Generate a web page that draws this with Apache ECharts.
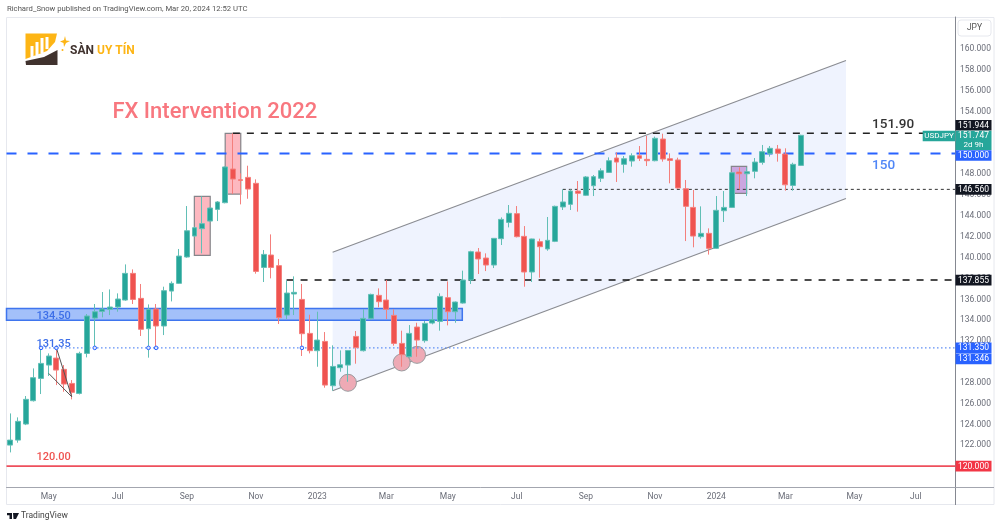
<!DOCTYPE html>
<html><head><meta charset="utf-8"><style>html,body{margin:0;padding:0;background:#fff}#c{width:1000px;height:527px}</style>
<script src="https://cdn.jsdelivr.net/npm/echarts@6/dist/echarts.min.js"></script></head>
<body><div id="c"></div><script>
// Weekly USDJPY candles, first bar = week of 2022-03-28, one entry per week
const opens=[122.02,122.50,124.04,126.28,128.42,129.70,130.37,129.29,127.94,126.98,130.82,134.21,134.85,135.05,135.27,135.94,138.50,136.10,133.19,135.08,133.45,136.80,137.54,140.07,142.08,142.79,143.52,144.64,145.28,148.51,147.49,147.71,147.14,139.07,140.26,139.24,134.50,136.52,136.00,132.74,131.08,131.97,127.72,129.45,129.70,132.45,131.08,134.18,136.39,135.94,134.47,131.78,130.50,133.35,132.04,133.73,133.89,136.17,134.82,135.65,137.86,140.55,139.97,139.30,141.83,143.39,144.23,142.05,138.63,141.54,140.84,141.57,144.87,145.12,146.40,145.99,146.91,147.62,148.19,149.57,148.96,149.28,149.79,149.44,149.31,151.39,149.50,149.38,146.62,144.83,142.02,142.34,140.90,144.51,144.83,148.22,148.06,148.29,149.15,149.98,150.43,149.95,146.94,148.86];
const highs=[125.06,124.68,126.73,129.38,131.33,130.82,131.35,129.70,128.26,130.98,134.60,135.56,136.71,136.96,136.58,139.36,138.88,137.48,135.52,135.56,137.22,137.73,140.84,144.96,142.98,145.89,144.83,145.44,148.77,151.94,148.10,148.83,147.52,140.74,142.24,139.88,137.83,138.21,137.48,134.53,134.82,132.87,131.59,131.11,131.14,132.97,135.05,136.55,137.06,137.86,135.05,133.00,133.54,133.76,133.93,135.05,136.58,137.73,135.80,138.76,140.67,140.93,140.42,141.89,143.87,145.06,144.96,143.04,141.83,141.83,143.91,145.00,146.56,146.56,147.36,147.84,147.94,148.58,149.63,150.11,149.76,150.02,150.72,151.68,151.62,151.90,150.02,149.60,147.46,146.50,144.93,142.82,145.92,146.40,148.22,148.67,148.67,149.57,150.82,150.72,150.82,150.50,149.12,151.80];
const lows=[121.32,122.25,123.94,126.20,126.92,128.65,127.78,127.14,126.41,126.88,130.44,131.46,134.28,134.50,134.82,135.87,135.56,132.49,130.41,131.53,132.58,135.81,137.48,140.00,142.02,140.42,143.46,143.52,145.22,146.11,145.12,145.66,138.47,137.67,138.02,133.64,134.12,134.50,130.57,130.82,129.54,127.53,127.24,129.06,128.10,129.83,131.00,134.02,135.24,134.12,131.56,129.54,130.44,130.50,131.85,133.61,133.00,133.51,133.76,135.59,137.48,138.44,138.72,139.01,141.22,142.91,141.95,137.22,137.67,138.08,140.67,141.50,144.58,144.58,144.42,145.92,145.92,147.27,148.16,147.27,148.16,148.74,149.28,148.80,149.25,149.22,147.14,146.62,141.60,141.00,141.83,140.30,140.84,143.43,144.77,146.56,145.92,147.62,148.93,149.70,149.22,146.43,146.43,148.80];
const closes=[122.50,124.30,126.41,128.49,129.86,130.57,129.22,127.88,127.08,130.82,134.41,134.82,135.08,135.27,136.04,138.50,136.00,133.13,135.05,133.45,136.84,137.54,140.16,142.59,142.88,143.27,144.77,145.35,148.71,147.55,147.42,146.59,138.69,140.32,139.07,134.24,136.61,136.68,132.71,131.08,132.10,127.78,129.57,129.73,131.10,131.37,134.18,136.48,135.78,135.05,131.78,130.70,132.74,132.10,133.70,134.05,136.29,134.82,135.75,137.86,140.58,139.88,139.30,141.86,143.68,144.26,142.02,138.63,141.80,141.06,141.67,144.93,145.35,146.40,146.18,147.75,147.78,148.35,149.31,149.18,149.50,149.79,149.54,149.31,151.46,149.47,149.34,146.69,144.93,142.08,142.34,140.90,144.55,144.83,148.16,148.06,148.25,149.18,150.18,150.50,150.02,147.00,148.96,151.747];
const monthTicks=[5,14,23,32,40,49,57,66,75,84,92,101,110,118];
const monthLabels=['May','Jul','Sep','Nov','2023','Mar','May','Jul','Sep','Nov','2024','Mar','May','Jul'];
const priceTicks=[120,122,124,126,128,132,134,136,138,140,142,144,146,148,154,156,158,160];
const channelTop=[[42,140.52],[108.9,158.93]];
const channelBottom=[[42,127.24],[108.9,145.68]];
const supportZone=[-0.5,135.12,58.9,134.0];
const pinkBoxes=[[23.98,145.89,26.05,140.23],[28,151.94,30.03,146.11]];
const purpleBox=[93.96,148.77,95.96,146.18];
const touchPoints=[[44,128.0],[51,129.95],[53,130.68]];
const wedgeLines=[[[5,128.9],[8,126.66]],[[6,131.35],[8,126.66]]];
const pivotPoints=[[4,131.35],[6,131.35],[11,131.35],[18,131.35],[19,131.35],[38,131.35]];
const xEnd=123.11;
const tagPrices=[151.944,150,146.56,137.855,131.35,131.346,120];
const tagColors=['#131722','#2962ff','#131722','#131722','#2962ff','#2962ff','#f23645'];
const tagShift=[-8,2,0,0,0,11,0];

const FONT='Roboto, sans-serif';
const monthOf=v=>monthLabels[monthTicks.indexOf(v)]||'';
const candles=opens.map((o,i)=>[i,o,closes[i],lows[i],highs[i]]);
const pts=(api,a)=>a.map(p=>api.coord(p));
const line=(api,a,b,style)=>{const p=api.coord(a),q=api.coord(b);return {type:'line',shape:{x1:p[0],y1:p[1],x2:q[0],y2:q[1]},style:Object.assign({fill:null},style)};};
const box=(api,b,style)=>{const p=api.coord([b[0],b[1]]),q=api.coord([b[2],b[3]]);return {type:'rect',shape:{x:p[0],y:p[1],width:q[0]-p[0],height:q[1]-p[1]},style};};
const label=(api,c,text,color,font,align)=>{const p=api.coord(c);return {type:'text',style:{x:p[0],y:p[1],text,fill:color,font:font+' '+FONT,textAlign:align||'left',textVerticalAlign:'middle'}};};
const layer=(z,build)=>({type:'custom',coordinateSystem:'cartesian2d',z,silent:true,clip:false,encode:{x:0,y:1},data:[[0,130]],renderItem:(p,api)=>({type:'group',children:build(api)})});

const option={
 animation:false,backgroundColor:'#fff',
 grid:{left:6.5,right:45,top:17,bottom:40},
 xAxis:{type:'value',min:-0.5,max:xEnd,splitLine:{show:false},
  axisLine:{onZero:false,lineStyle:{color:'#a3a6af',width:1}},axisTick:{show:false},
  axisLabel:{customValues:monthTicks,margin:5,fontSize:8.5,fontFamily:FONT,color:'#6a6d78',hideOverlap:false,formatter:monthOf}},
 yAxis:{type:'value',position:'right',min:118,max:163.1,splitLine:{show:false},
  axisLine:{show:true,onZero:false,lineStyle:{color:'#858891',width:1}},axisTick:{show:false},
  axisLabel:{customValues:priceTicks,margin:5,fontSize:8.5,fontFamily:FONT,color:'#6a6d78',formatter:v=>Number(v).toFixed(3)}},
 series:[
  layer(1,api=>{
    const poly=pts(api,[channelTop[0],channelTop[1],channelBottom[1],channelBottom[0]]);
    return [{type:'polygon',shape:{points:poly},style:{fill:'#eff3fe'}},
     line(api,channelTop[0],channelTop[1],{stroke:'#8a8c92',lineWidth:1.2}),
     line(api,channelBottom[0],channelBottom[1],{stroke:'#8a8c92',lineWidth:1.2})];
  }),
  layer(2,api=>{
    const out=[box(api,supportZone,{fill:'#a3c0fa',stroke:'#3f75ee',lineWidth:1.5})];
    pinkBoxes.forEach(b=>out.push(box(api,b,{fill:'#fdb8c0',stroke:'#85858a',lineWidth:1.2})));
    out.push(box(api,purpleBox,{fill:'#cba6e0',stroke:'#85858a',lineWidth:1.2}));
    touchPoints.forEach(c=>{const p=api.coord(c);out.push({type:'circle',shape:{cx:p[0],cy:p[1],r:8.5},style:{fill:'#eeaab5',stroke:'#9a9a9e',lineWidth:1}});});
    return out;
  }),
  layer(3,api=>[
    line(api,[-0.5,150],[xEnd,150],{stroke:'#2962ff',lineWidth:2,lineDash:[10,11]}),
    line(api,[29,151.94],[xEnd,151.94],{stroke:'#222',lineWidth:1.5,lineDash:[7,7]}),
    line(api,[36,137.855],[xEnd,137.855],{stroke:'#111',lineWidth:1.5,lineDash:[7,7]}),
    line(api,[72,146.56],[xEnd,146.56],{stroke:'#333',lineWidth:1,lineDash:[3,3]}),
    line(api,[4,131.35],[xEnd,131.35],{stroke:'#5b8cf5',lineWidth:1.2,lineDash:[1.5,2.5]}),
    line(api,[-0.5,120],[xEnd,120],{stroke:'#ee4f5c',lineWidth:1.6}),
  ]),
  {type:'candlestick',z:4,silent:true,barWidth:5.4,clip:false,encode:{x:0,y:[1,2,3,4]},data:candles,
   itemStyle:{color:'#26a69a',color0:'#ef5350',borderColor:'#62bfb6',borderColor0:'#f47f7c',borderWidth:1}},
  layer(5,api=>{
    const out=[];
    wedgeLines.forEach(l=>out.push(line(api,l[0],l[1],{stroke:'#555',lineWidth:1})));
    pivotPoints.forEach(c=>{const p=api.coord(c);out.push({type:'circle',shape:{cx:p[0],cy:p[1],r:1.8},style:{fill:'#dfe8fd',stroke:'#2962ff',lineWidth:1}});});
    out.push(label(api,[13.3,153.9],'FX Intervention 2022','#f8777f','500 22px'));
    out.push(label(api,[112.3,152.8],'151.90','#333','500 13.5px'));
    out.push(label(api,[112.3,148.8],'150','#4f86f7','500 13.5px'));
    out.push(label(api,[3.4,134.4],'134.50','#3d6fe8','500 11px'));
    out.push(label(api,[3.4,131.7],'131.35','#3d6fe8','500 11px'));
    out.push(label(api,[3.4,120.9],'120.00','#ef5350','500 11px'));
    return out;
  }),
  layer(6,api=>{
    const out=[];
    const right=api.coord([xEnd,130])[0];
    const rect=(x,y,w,h,fill)=>({type:'rect',shape:{x,y,width:w,height:h},style:{fill}});
    const txt=(x,y,t,font)=>({type:'text',style:{x,y,text:t,fill:'#fff',font:font+' '+FONT,textAlign:'center',textVerticalAlign:'middle'}});
    tagPrices.forEach((v,i)=>{
      const y=api.coord([0,v])[1]+tagShift[i];
      out.push(rect(right+0.5,y-5.3,36,10.6,tagColors[i]));
      out.push(txt(right+18.5,y+0.3,v.toFixed(3),'8.5px'));
    });
    const last=closes[closes.length-1];
    const y=api.coord([0,last])[1];
    out.push(rect(right+0.5,y-4.6,36,19.4,'#26a69a'));
    out.push(rect(right-32.3,y-4.6,32.3,10.6,'#26a69a'));
    out.push(txt(right-16,y+0.6,'USDJPY','8px'));
    out.push(txt(right+18.5,y+0.6,last.toFixed(3),'8.5px'));
    out.push(txt(right+18.5,y+10,'2d 9h','8px'));
    return out;
  }),
 ],
 graphic:{elements:[
  {type:'rect',silent:true,z:-1,shape:{x:6.5,y:17.5,width:987.5,height:487},style:{fill:null,stroke:'#e6e8ee',lineWidth:1}},
  {type:'line',silent:true,shape:{x1:955.5,y1:487,x2:955.5,y2:505},style:{stroke:'#858891',lineWidth:1}},
  {type:'line',silent:true,shape:{x1:955,y1:487.5,x2:994,y2:487.5},style:{stroke:'#a3a6af',lineWidth:1}},
  {type:'rect',silent:true,shape:{x:958,y:20,width:33,height:16,r:3},style:{fill:'#fff',stroke:'#e6e8ee',lineWidth:1}},
  {type:'text',silent:true,style:{x:974.5,y:28,text:'JPY',fill:'#555',font:'8.5px '+FONT,textAlign:'center',textVerticalAlign:'middle'}},
  {type:'text',silent:true,style:{x:7,y:9,text:'Richard_Snow published on TradingView.com, Mar 20, 2024 12:52 UTC',fill:'#555',font:'7.7px '+FONT,textVerticalAlign:'middle'}},
  {type:'text',silent:true,style:{x:21,y:516,text:'TradingView',fill:'#444',font:'8.5px '+FONT,textVerticalAlign:'middle'}},
  {type:'polygon',silent:true,shape:{points:[[7,513],[12,513],[12,519],[9.5,519],[9.5,515.2],[7,515.2]]},style:{fill:'#131722'}},
  {type:'polygon',silent:true,shape:{points:[[13,513],[19,513],[16,519],[13.5,519]]},style:{fill:'#131722'}},
  {type:'polygon',silent:true,shape:{points:[[25.5,33.5],[57,33.5],[55,42],[47,51],[25.5,59]]},style:{fill:'#fdb515'}},
  {type:'polygon',silent:true,shape:{points:[[25.5,61],[44,57],[57.5,50],[57.5,65],[26,65]]},style:{fill:'#40322e'}},
  {type:'rect',silent:true,shape:{x:30.5,y:46,width:3,height:11},style:{fill:'#fff'}},
  {type:'rect',silent:true,shape:{x:35.5,y:42,width:3,height:13},style:{fill:'#fff'}},
  {type:'rect',silent:true,shape:{x:40.5,y:38,width:3,height:15},style:{fill:'#fff'}},
  {type:'rect',silent:true,shape:{x:45.5,y:37,width:3,height:12},style:{fill:'#fff'}},
  {type:'polygon',silent:true,shape:{points:[[65,36],[66,40.5],[70,41],[66,43],[64,47],[63.5,43],[60,41.5],[64,40]]},style:{fill:'#fdb515'}},
  {type:'circle',silent:true,shape:{cx:62.5,cy:50,r:1},style:{fill:'#fdb515'}},
  {type:'text',silent:true,style:{x:70,y:51,text:'SÀN',fill:'#40322e',font:'bold 12px '+FONT,textVerticalAlign:'middle'}},
  {type:'text',silent:true,style:{x:97,y:51,text:'UY TÍN',fill:'#fdb515',font:'bold 12px '+FONT,textVerticalAlign:'middle'}}
 ]}
};
echarts.init(document.getElementById('c'),null,{renderer:'canvas'}).setOption(option);
</script></body></html>
